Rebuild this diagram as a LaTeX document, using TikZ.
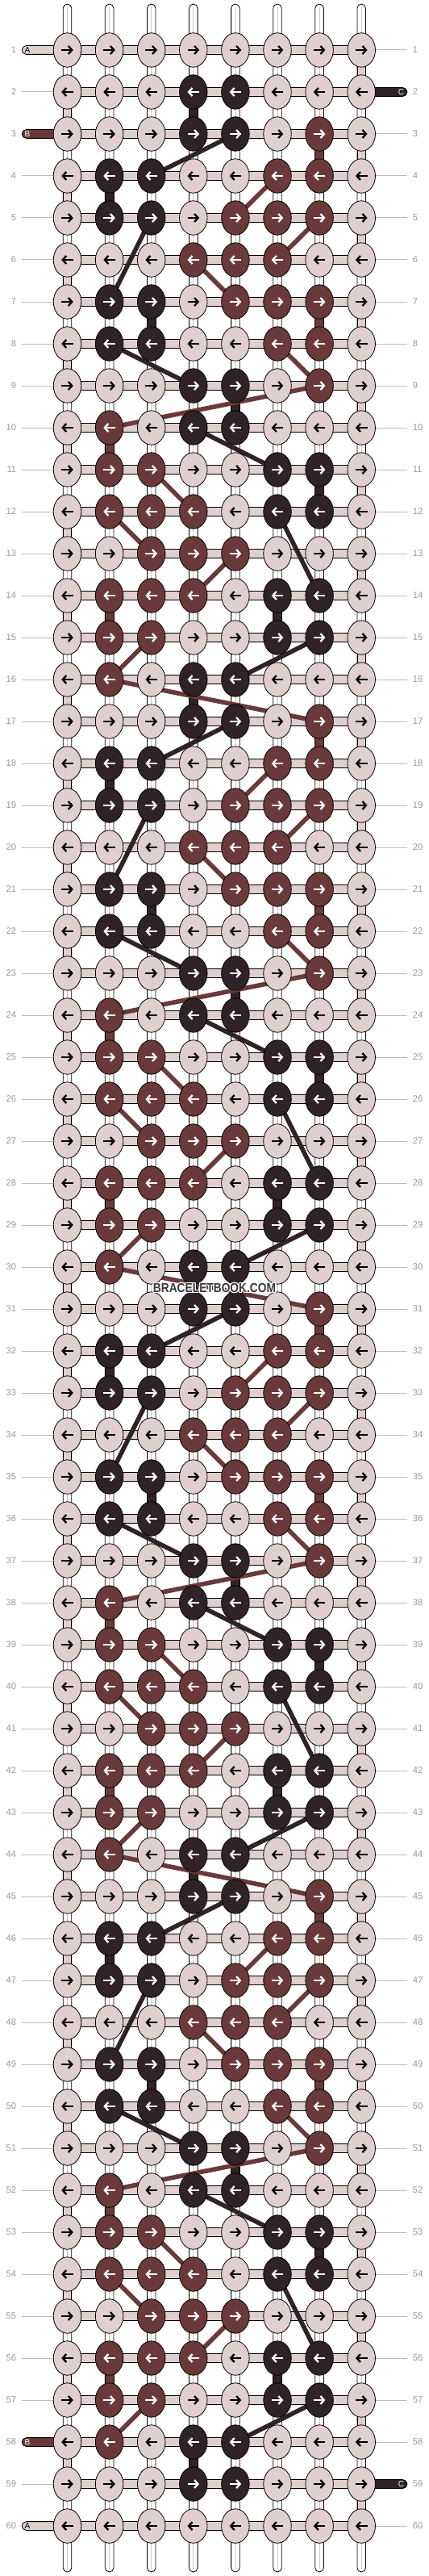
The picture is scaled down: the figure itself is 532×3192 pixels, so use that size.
\documentclass[tikz,border=0pt]{standalone}
\usepackage{fontspec}
\setmainfont{Liberation Sans}
\usetikzlibrary{shapes.geometric,arrows.meta}
\definecolor{thA}{HTML}{DFCFCF}
\definecolor{thB}{HTML}{6A3A3B}
\definecolor{thC}{HTML}{2F2327}
\colorlet{c0}{thA}\colorlet{c1}{thB}\colorlet{c2}{thC}
\colorlet{a0}{black}\colorlet{a1}{white}\colorlet{a2}{white}
\definecolor{numgray}{HTML}{999999}
\definecolor{guide}{HTML}{BDBDBD}
\definecolor{tubeline}{HTML}{C8C8C8}
\definecolor{wmark}{HTML}{3A3A3A}
\pgfdeclarelayer{bg}\pgfdeclarelayer{mid}\pgfsetlayers{bg,mid,main}
\tikzset{
 knot/.style={ellipse, draw=black, line width=0.8pt, minimum width=34.5pt, minimum height=42.4pt, inner sep=0pt},
 arr/.style={line width=2.3pt, -{Straight Barb[length=4.5pt,width=10pt]}},
 vthread/.style={draw=black, line width=0.8pt},
 diag/.style={line width=5.6pt},
 tube/.style={draw=black, fill=white, line width=0.8pt},
 hseg/.style={draw=black, fill=thA, line width=0.8pt},
 rownum/.style={text=numgray, font=\fontsize{11.2}{11.2}\selectfont, inner sep=0pt},
 guideline/.style={draw=guide, line width=1pt},
 pill/.style={draw=black, line width=0.8pt, rounded corners=5.4pt},
 pilltext/.style={font=\fontsize{10}{10}\selectfont, inner sep=0pt},
 wmtext/.style={font=\fontsize{16}{16}\selectfont\bfseries, xscale=0.86, inner sep=0pt},
}
\begin{document}
\begin{tikzpicture}[x=1pt,y=-1pt]
\useasboundingbox (0,0) rectangle (532,3192);
% knots
\foreach \row [count=\r] in {
{0,0,0,0,0,0,0,0},
{0,0,0,2,2,0,0,0},
{0,0,0,2,2,0,1,0},
{0,2,2,0,0,1,1,0},
{0,2,2,0,1,1,1,0},
{0,0,0,1,1,1,0,0},
{0,2,2,0,1,1,1,0},
{0,2,2,0,0,1,1,0},
{0,0,0,2,2,0,1,0},
{0,1,0,2,2,0,0,0},
{0,1,1,0,0,2,2,0},
{0,1,1,1,0,2,2,0},
{0,0,1,1,1,0,0,0},
{0,1,1,1,0,2,2,0},
{0,1,1,0,0,2,2,0},
{0,1,0,2,2,0,0,0},
{0,0,0,2,2,0,1,0},
{0,2,2,0,0,1,1,0},
{0,2,2,0,1,1,1,0},
{0,0,0,1,1,1,0,0},
{0,2,2,0,1,1,1,0},
{0,2,2,0,0,1,1,0},
{0,0,0,2,2,0,1,0},
{0,1,0,2,2,0,0,0},
{0,1,1,0,0,2,2,0},
{0,1,1,1,0,2,2,0},
{0,0,1,1,1,0,0,0},
{0,1,1,1,0,2,2,0},
{0,1,1,0,0,2,2,0},
{0,1,0,2,2,0,0,0},
{0,0,0,2,2,0,1,0},
{0,2,2,0,0,1,1,0},
{0,2,2,0,1,1,1,0},
{0,0,0,1,1,1,0,0},
{0,2,2,0,1,1,1,0},
{0,2,2,0,0,1,1,0},
{0,0,0,2,2,0,1,0},
{0,1,0,2,2,0,0,0},
{0,1,1,0,0,2,2,0},
{0,1,1,1,0,2,2,0},
{0,0,1,1,1,0,0,0},
{0,1,1,1,0,2,2,0},
{0,1,1,0,0,2,2,0},
{0,1,0,2,2,0,0,0},
{0,0,0,2,2,0,1,0},
{0,2,2,0,0,1,1,0},
{0,2,2,0,1,1,1,0},
{0,0,0,1,1,1,0,0},
{0,2,2,0,1,1,1,0},
{0,2,2,0,0,1,1,0},
{0,0,0,2,2,0,1,0},
{0,1,0,2,2,0,0,0},
{0,1,1,0,0,2,2,0},
{0,1,1,1,0,2,2,0},
{0,0,1,1,1,0,0,0},
{0,1,1,1,0,2,2,0},
{0,1,1,0,0,2,2,0},
{0,1,0,2,2,0,0,0},
{0,0,0,2,2,0,0,0},
{0,0,0,0,0,0,0,0}} {
  \foreach \k [count=\c] in \row {
    \pgfmathsetmacro\xx{83.5+(\c-1)*52.1}
    \pgfmathsetmacro\yy{62+(\r-1)*52}
    \node[knot, fill=c\k] (k-\r-\c) at (\xx,\yy) {};
    \ifodd\r
      \draw[arr, a\k] ([xshift=-7.3pt]k-\r-\c.center) -- ([xshift=7.3pt]k-\r-\c.center);
    \else
      \draw[arr, a\k] ([xshift=7.3pt]k-\r-\c.center) -- ([xshift=-7.3pt]k-\r-\c.center);
    \fi
  }
}
% row numbers
\foreach \r in {1,...,60} {
  \pgfmathsetmacro\yy{62+(\r-1)*52}
  \node[rownum, anchor=east] (nl-\r) at (20.4,\yy) {\r};
  \node[rownum, anchor=west] (nr-\r) at (511.7,\yy) {\r};
}
\begin{pgfonlayer}{bg}
  % vertical base strings
  \foreach \c in {1,...,8} {
    \pgfmathsetmacro\xx{83.5+(\c-1)*52.1}
    \draw[tube, rounded corners=5.3pt] (\xx-5.3,5) rectangle (\xx+5.3,3187);
    \draw[tubeline, line width=0.7pt] (\xx,9) -- (\xx,3183);
  }
  % horizontal working segments
  \foreach \r in {1,...,60} {
    \draw[hseg] ([yshift=5.4pt]k-\r-1.center) rectangle ([yshift=-5.4pt]k-\r-8.center);
  }
  % A thread turning
  \foreach \r in {1,...,59} {
    \pgfmathtruncatemacro\rn{\r+1}
    \ifodd\r
      \draw[vthread, fill=thA] ([xshift=-5.3pt]k-\r-8.center) rectangle ([xshift=5.3pt]k-\rn-8.center);
    \else
      \draw[vthread, fill=thA] ([xshift=-5.3pt]k-\r-1.center) rectangle ([xshift=5.3pt]k-\rn-1.center);
    \fi
  }
  % guide lines
  \foreach \r in {1,...,60} {
    \pgfmathsetmacro\yy{62+(\r-1)*52}
    \pgfmathtruncatemacro\lp{(\r==1)||(\r==3)||(\r==58)||(\r==60)}
    \pgfmathtruncatemacro\rp{(\r==2)||(\r==59)}
    \coordinate (gl-\r) at (26.5,\yy);
    \coordinate (gr-\r) at (505,\yy);
    \ifnum\lp=0 \draw[guideline] (gl-\r) -- (k-\r-1.center); \fi
    \ifnum\rp=0 \draw[guideline] (k-\r-8.center) -- (gr-\r); \fi
  }
  % thread ends
  \draw[pill, fill=thA] (27.2,56.6) rectangle ([yshift=-5.4pt]k-1-1.center);
  \draw[pill, fill=thB] (27.2,160.6) rectangle ([yshift=-5.4pt]k-3-1.center);
  \draw[pill, fill=thC] ([yshift=5.4pt]k-2-8.center) rectangle (505,119.4);
  \draw[pill, fill=thB] (27.2,3020.6) rectangle ([yshift=-5.4pt]k-58-1.center);
  \draw[pill, fill=thC] ([yshift=5.4pt]k-59-8.center) rectangle (505,3083.4);
  \draw[pill, fill=thA] (27.2,3124.6) rectangle ([yshift=-5.4pt]k-60-1.center);
  \node[pilltext, text=black] (pA1) at (34,62) {A};
  \node[pilltext, text=white] (pB1) at (34,166) {B};
  \node[pilltext, text=white] (pC1) at (497.5,114) {C};
  \node[pilltext, text=white] (pB2) at (34,3026) {B};
  \node[pilltext, text=white] (pC2) at (497.5,3078) {C};
  \node[pilltext, text=black] (pA2) at (34,3130) {A};
\end{pgfonlayer}
\begin{pgfonlayer}{mid}
  % dark thread C
  \draw[vthread, fill=thC] ([xshift=-5.3pt]k-2-4.center) rectangle ([xshift=5.3pt]k-3-4.center);
  \foreach \p in {0,14,28,42} {
    \foreach \ra/\ca/\rb/\cb in {4/2/5/2, 7/3/8/3, 9/5/10/5, 11/7/12/7, 14/6/15/6, 16/4/17/4} {
      \pgfmathtruncatemacro\ta{\ra+\p}\pgfmathtruncatemacro\tb{\rb+\p}
      \draw[vthread, fill=thC] ([xshift=-5.3pt]k-\ta-\ca.center) rectangle ([xshift=5.3pt]k-\tb-\cb.center);
    }
    \foreach \ra/\ca/\rb/\cb in {3/5/4/3, 5/3/7/2, 8/2/9/4, 10/4/11/6, 12/6/14/7, 15/7/16/5} {
      \pgfmathtruncatemacro\ta{\ra+\p}\pgfmathtruncatemacro\tb{\rb+\p}
      \draw[diag, thC] (k-\ta-\ca.center) -- (k-\tb-\cb.center);
    }
  }
  % brown thread B
  \foreach \p in {0,14,28,42} {
    \foreach \ra/\ca/\rb/\cb in {3/7/4/7, 7/7/8/7, 10/2/11/2, 14/2/15/2} {
      \pgfmathtruncatemacro\ta{\ra+\p}\pgfmathtruncatemacro\tb{\rb+\p}
      \draw[vthread, fill=thB] ([xshift=-5.3pt]k-\ta-\ca.center) rectangle ([xshift=5.3pt]k-\tb-\cb.center);
    }
    \foreach \ra/\ca/\rb/\cb in {4/6/5/5, 5/7/6/6, 6/4/7/5, 8/6/9/7, 9/7/10/2, 11/3/12/4, 12/2/13/3, 13/5/14/4, 15/3/16/2} {
      \pgfmathtruncatemacro\ta{\ra+\p}\pgfmathtruncatemacro\tb{\rb+\p}
      \draw[diag, thB] (k-\ta-\ca.center) -- (k-\tb-\cb.center);
    }
  }
  \foreach \p in {0,14,28} {
    \pgfmathtruncatemacro\ta{16+\p}\pgfmathtruncatemacro\tb{17+\p}
    \draw[diag, thB] (k-\ta-2.center) -- (k-\tb-7.center);
  }
\end{pgfonlayer}
% watermark
\foreach \dx/\dy in {1.2/0,-1.2/0,0/1.2,0/-1.2,0.9/0.9,-0.9/0.9,0.9/-0.9,-0.9/-0.9} {
  \node[wmtext, text=white] at (266+\dx,1596+\dy) {BRACELETBOOK.COM};
}
\node[wmtext, text=wmark] (wm) at (266,1596) {BRACELETBOOK.COM};
\end{tikzpicture}
\end{document}
